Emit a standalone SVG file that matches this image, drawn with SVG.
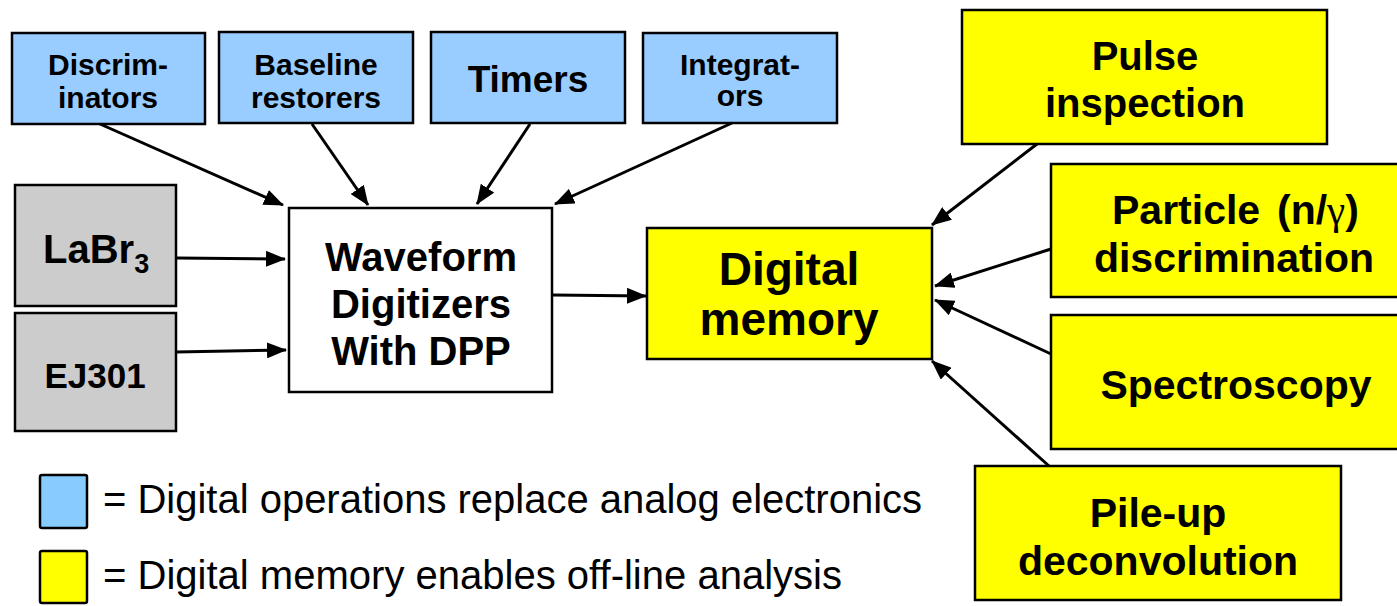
<svg xmlns="http://www.w3.org/2000/svg" width="1397" height="606" viewBox="0 0 1397 606">
<defs>
<style>
.box{stroke:#000;stroke-width:2.5}
.blue{fill:#99CCFF}
.gray{fill:#CCCCCC}
.yel{fill:#FFFF00}
.wht{fill:#FFFFFF}
.t{font-family:"Liberation Sans",Arial,sans-serif;font-weight:bold;fill:#000;text-anchor:middle}
.lg{font-family:"Liberation Sans",Arial,sans-serif;font-size:40px;fill:#000}
.con line{stroke:#000;stroke-width:3;marker-end:url(#ah)}
</style>
<marker id="ah" markerUnits="userSpaceOnUse" markerWidth="20" markerHeight="16" refX="19" refY="8" orient="auto" viewBox="0 0 20 16">
<path d="M0,0 L20,8 L0,16 z" fill="#000"/>
</marker>
</defs>
<rect width="1397" height="606" fill="#fff"/>

<g id="discriminators">
<rect class="box blue" x="12" y="33" width="193" height="91"/>
<text class="t" font-size="30" x="108" y="75">Discrim-</text>
<text class="t" font-size="30" x="108" y="108">inators</text>
</g>
<g id="baseline">
<rect class="box blue" x="219" y="32" width="194" height="91"/>
<text class="t" font-size="30" x="316" y="75">Baseline</text>
<text class="t" font-size="30" x="316" y="108">restorers</text>
</g>
<g id="timers">
<rect class="box blue" x="431" y="32" width="194" height="91"/>
<text class="t" font-size="37" x="528" y="92">Timers</text>
</g>
<g id="integrators">
<rect class="box blue" x="643" y="33" width="194" height="90"/>
<text class="t" font-size="30" x="740" y="75">Integrat-</text>
<text class="t" font-size="30" x="740" y="106">ors</text>
</g>

<g id="labr3">
<rect class="box gray" x="15" y="185" width="161" height="121"/>
<text class="t" font-size="40" x="43" y="263" style="text-anchor:start">LaBr<tspan font-size="27" dy="10">3</tspan></text>
</g>
<g id="ej301">
<rect class="box gray" x="15" y="313" width="161" height="118"/>
<text class="t" font-size="35" x="95" y="388">EJ301</text>
</g>

<g id="waveform">
<rect class="box wht" x="289" y="208" width="263" height="184"/>
<text class="t" font-size="40" x="421" y="271">Waveform</text>
<text class="t" font-size="40" x="421" y="318">Digitizers</text>
<text class="t" font-size="40" x="421" y="365">With DPP</text>
</g>

<g id="memory">
<rect class="box yel" x="647" y="228" width="285" height="131"/>
<text class="t" font-size="46" x="789" y="285">Digital</text>
<text class="t" font-size="46" x="789" y="335">memory</text>
</g>

<g id="pulse">
<rect class="box yel" x="962" y="10" width="365" height="134"/>
<text class="t" font-size="40" x="1145" y="70">Pulse</text>
<text class="t" font-size="40" x="1145" y="117">inspection</text>
</g>
<g id="particle">
<rect class="box yel" x="1051" y="164" width="375" height="133"/>
<text class="t" font-size="41" x="1112" y="224" style="text-anchor:start">Particle</text>
<text class="t" font-size="41" x="1277" y="224" style="text-anchor:start">(n/<tspan font-family="'Liberation Serif','Times New Roman',serif" font-weight="normal">γ</tspan>)</text>
<text class="t" font-size="41" x="1234" y="272">discrimination</text>
</g>
<g id="spectroscopy">
<rect class="box yel" x="1051" y="315" width="375" height="134"/>
<text class="t" font-size="41" x="1236" y="399">Spectroscopy</text>
</g>
<g id="pileup">
<rect class="box yel" x="975" y="466" width="366" height="134"/>
<text class="t" font-size="41" x="1158" y="527">Pile-up</text>
<text class="t" font-size="41" x="1158" y="575">deconvolution</text>
</g>

<g id="connectors" class="con">
<line x1="100" y1="124" x2="283" y2="205"/>
<line x1="312" y1="124" x2="368" y2="205"/>
<line x1="530" y1="124" x2="477" y2="204"/>
<line x1="732" y1="123" x2="555" y2="204"/>
<line x1="176" y1="258" x2="285" y2="259"/>
<line x1="176" y1="352" x2="286" y2="350"/>
<line x1="553" y1="295" x2="646" y2="296"/>
<line x1="1037" y1="144" x2="932" y2="225"/>
<line x1="1051" y1="249" x2="935" y2="286"/>
<line x1="1051" y1="354" x2="935" y2="300"/>
<line x1="1049" y1="466" x2="932" y2="361"/>
</g>

<g id="legend">
<rect class="box" fill="#88CCFF" x="40" y="475" width="47" height="53" rx="2"/>
<rect class="box yel" x="40" y="551" width="47" height="52" rx="2"/>
<text class="lg" x="103" y="513" textLength="819" lengthAdjust="spacingAndGlyphs">= Digital operations replace analog electronics</text>
<text class="lg" x="103" y="589" textLength="739" lengthAdjust="spacingAndGlyphs">= Digital memory enables off-line analysis</text>
</g>
</svg>
